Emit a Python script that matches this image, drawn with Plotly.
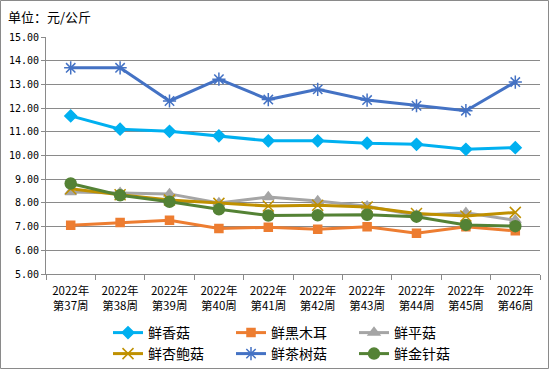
import plotly.graph_objects as go

weeks = ["2022年<br>第37周", "2022年<br>第38周", "2022年<br>第39周", "2022年<br>第40周", "2022年<br>第41周",
         "2022年<br>第42周", "2022年<br>第43周", "2022年<br>第44周", "2022年<br>第45周", "2022年<br>第46周"]

xianggu = [11.67, 11.11, 11.02, 10.83, 10.62, 10.62, 10.52, 10.47, 10.26, 10.33]
heimuer = [7.06, 7.17, 7.27, 6.92, 6.97, 6.89, 6.99, 6.72, 6.99, 6.82]
pinggu = [8.46, 8.43, 8.38, 8.00, 8.25, 8.08, 7.86, 7.48, 7.58, 7.27]
xingbaogu = [8.60, 8.34, 8.12, 7.98, 7.87, 7.90, 7.83, 7.55, 7.45, 7.60]
chashugu = [13.70, 13.70, 12.30, 13.22, 12.36, 12.79, 12.34, 12.10, 11.89, 13.10]
jinzhengu = [8.82, 8.32, 8.05, 7.73, 7.47, 7.48, 7.50, 7.42, 7.07, 7.02]

series = [
    ("鲜香菇", xianggu, "#00B0F0", "diamond", 9, "legend"),
    ("鲜黑木耳", heimuer, "#ED7D31", "square", 8, "legend"),
    ("鲜平菇", pinggu, "#A5A5A5", "triangle-up", 10, "legend"),
    ("鲜杏鲍菇", xingbaogu, "#BF9000", "x-thin-open", 11, "legend2"),
    ("鲜茶树菇", chashugu, "#4472C4", "asterisk-open", 11, "legend2"),
    ("鲜金针菇", jinzhengu, "#548235", "circle", 11, "legend2"),
]

fig = go.Figure()
for name, vals, color, sym, size, lg in series:
    fig.add_trace(go.Scatter(
        x=weeks, y=vals, name=name, mode="lines+markers",
        line=dict(color=color, width=3),
        marker=dict(symbol=sym, size=size, color=color,
                    line=dict(color=color, width=1.5)),
        legend=lg,
    ))

W, H = 550, 370
ml, mr, mt, mb = 46, 10, 37, 96
pw, ph = W - ml - mr, H - mt - mb

grid = "#8A8A8A"
fig.update_layout(
    width=W, height=H,
    margin=dict(l=ml, r=mr, t=mt, b=mb, autoexpand=False),
    paper_bgcolor="white", plot_bgcolor="white",
    font=dict(family="Noto Sans CJK SC", size=12, color="#000000"),
    xaxis=dict(type="category", showline=True, linecolor=grid, linewidth=1,
               ticks="outside", tickson="boundaries", ticklen=5, tickcolor=grid,
               showgrid=False, tickfont=dict(size=11.5, family="Noto Sans CJK SC"),
               ticklabelstandoff=6, range=[-0.5, 9.5], automargin=False),
    yaxis=dict(range=[5, 15], dtick=1, tickformat=".2f", showline=True,
               linecolor=grid, linewidth=1, gridcolor=grid, gridwidth=1,
               ticks="outside", ticklen=4, tickcolor=grid, zeroline=False,
               tickfont=dict(size=10, family="DejaVu Sans Mono"), automargin=False),
    legend=dict(orientation="h", xref="container", yref="container",
                x=108 / W, y=1 - 317 / H, xanchor="left", yanchor="top",
                entrywidth=78, font=dict(size=14), bgcolor="rgba(0,0,0,0)",
                borderwidth=0, itemwidth=30, tracegroupgap=0),
    legend2=dict(orientation="h", xref="container", yref="container",
                 x=108 / W, y=1 - 338 / H, xanchor="left", yanchor="top",
                 entrywidth=78, font=dict(size=14), bgcolor="rgba(0,0,0,0)",
                 borderwidth=0, itemwidth=30, tracegroupgap=0),
    showlegend=True,
)

fig.add_annotation(text="单位：元/公斤", xref="paper", yref="paper",
                   x=-40 / pw, y=1 + 20 / ph, xanchor="left", yanchor="middle",
                   showarrow=False, font=dict(size=13, family="Noto Sans CJK SC"))

fig.add_shape(type="rect", xref="paper", yref="paper",
              x0=-(ml - 0.5) / pw, x1=1 + (mr - 1.5) / pw,
              y0=-(mb - 1.5) / ph, y1=1 + (mt - 0.5) / ph,
              line=dict(color="#8A8A8A", width=1), fillcolor="rgba(0,0,0,0)",
              layer="above")

fig.write_html("out.html", config={"displayModeBar": False},
               post_script="document.body.style.margin='0';")
